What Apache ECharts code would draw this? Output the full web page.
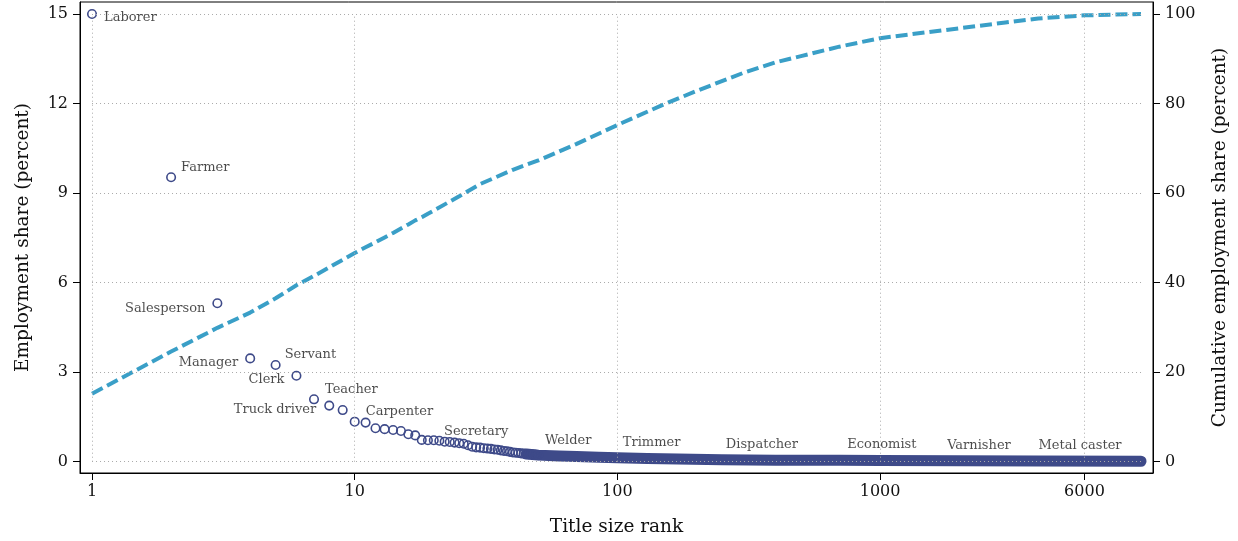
<!DOCTYPE html>
<html><head><meta charset="utf-8">
<script src="https://cdn.jsdelivr.net/npm/echarts@6/dist/echarts.min.js"></script>
<style>html,body{margin:0;padding:0;background:#fff}#c{width:1238px;height:541px}</style>
</head><body><div id="c"></div>
<script>
// ---- data ----
const xTicks = [1, 10, 100, 1000, 6000];
const yLeftTicks = [0, 3, 6, 9, 12, 15];
const yRightTicks = [0, 20, 40, 60, 80, 100];

const ranks = [1,2,3,4,5,6,7,8,9,10,11,12,13,14,15,16,17,18,19,20,21,22,23,24,25,26,27,28,29,30,31,32,33,34,35,36,37,38,39,40,41,42,43,44,45,46,47,48,49,50];
const shares = [15.0,9.53,5.31,3.46,3.24,2.88,2.09,1.88,1.73,1.34,1.31,1.12,1.09,1.06,1.03,0.92,0.88,0.73,0.72,0.72,0.70,0.67,0.66,0.64,0.62,0.60,0.55,0.50,0.48,0.47,0.45,0.44,0.43,0.41,0.40,0.38,0.36,0.35,0.33,0.31,0.30,0.29,0.28,0.27,0.26,0.25,0.25,0.24,0.23,0.22];

const tailRanks = [45, 50, 60, 70, 85, 100, 130, 170, 250, 400, 700, 1000, 2000, 4000, 9850];
const tailShares = [0.26, 0.22, 0.19, 0.17, 0.15, 0.13, 0.11, 0.09, 0.065, 0.05, 0.045, 0.04, 0.03, 0.02, 0.015];

const cumRanks = [1,2,3,4,5,6,7,8,9,10,11,12,13,14,15,16,17,18,19,20,25,30,40,50,70,100,150,200,300,400,500,700,1000,1500,2000,3000,4000,6000,9850];
const cumShares = [15.2,24.6,29.9,33.3,36.5,39.4,41.5,43.4,45.1,46.6,47.9,49.0,50.1,51.1,52.1,53.0,53.9,54.6,55.4,56.1,59.3,62.0,65.2,67.3,71.0,75.2,79.8,82.8,86.8,89.2,90.6,92.7,94.6,95.9,96.8,98.1,99.0,99.7,100.0];

const labelNames = ['Laborer','Farmer','Salesperson','Manager','Servant','Clerk','Teacher','Truck driver','Carpenter','Secretary','Welder','Trimmer','Dispatcher','Economist','Varnisher','Metal caster'];
const labelRanks = [1, 2, 3, 4, 5, 6, 7, 8, 10, 29, 65, 135, 355, 1016, 2380, 5770];
const labelShares = [15.0, 9.53, 5.31, 3.46, 3.24, 2.88, 2.09, 1.88, 1.34, 0.48, 0.18, 0.107, 0.053, 0.04, 0.028, 0.018];

// ---- styling ----
const FONT = 'DejaVu Serif';
const TXT = '#111';
const PT = '#3E4A89';
const CUM = '#3A9FC7';
const labelPlace = {
  'Laborer': ['left', 12, 4], 'Farmer': ['left', 10, -10], 'Salesperson': ['right', -12, 5],
  'Manager': ['right', -12, 4], 'Servant': ['left', 9, -10], 'Clerk': ['right', -12, 4],
  'Teacher': ['left', 11, -10], 'Truck driver': ['right', -13, 4], 'Carpenter': ['left', 11, -10]
};
const lastRank = tailRanks[tailRanks.length - 1];
const yTop = yLeftTicks[yLeftTicks.length - 1];

const gridLines = yLeftTicks.map(v => [{coord: [ranks[0], v]}, {coord: [lastRank, v]}])
  .concat(xTicks.map(v => [{coord: [v, yLeftTicks[0]]}, {coord: [v, yTop]}]));

const chart = echarts.init(document.getElementById('c'), null, {renderer: 'canvas'});
const axisText = {fontFamily: FONT, fontSize: 16, color: TXT};
const nameText = {fontFamily: FONT, fontSize: 18.5, color: TXT};

chart.setOption({
  animation: false,
  grid: {left: 80, right: 85, top: 2, bottom: 68, show: true, borderColor: '#000', borderWidth: 1,
         containLabel: false, outerBoundsMode: 'none'},
  xAxis: {
    type: 'log', logBase: 10, min: 0.9, max: 10940,
    name: 'Title size rank', nameLocation: 'middle', nameGap: 45, nameTextStyle: nameText,
    axisLine: {show: true, onZero: false, lineStyle: {color: '#000', width: 1}},
    axisTick: {show: true, length: 7, lineStyle: {color: '#000'}, customValues: xTicks},
    axisLabel: Object.assign({customValues: xTicks, margin: 11, formatter: v => String(Math.round(v))}, axisText),
    splitLine: {show: false}, minorTick: {show: false}, minorSplitLine: {show: false}
  },
  yAxis: [{
    type: 'value', position: 'left', min: -0.379, max: 15.402,
    name: 'Employment share (percent)', nameLocation: 'middle', nameRotate: 90, nameGap: 47, nameTextStyle: nameText,
    axisLine: {show: true, onZero: false, lineStyle: {color: '#000', width: 1}},
    axisTick: {show: true, length: 7, lineStyle: {color: '#000'}, customValues: yLeftTicks},
    axisLabel: Object.assign({customValues: yLeftTicks, margin: 12}, axisText),
    splitLine: {show: false}
  }, {
    type: 'value', position: 'right', min: -2.524, max: 102.68,
    name: 'Cumulative employment share (percent)', nameLocation: 'middle', nameRotate: 90, nameGap: 58, nameTextStyle: nameText,
    axisLine: {show: true, onZero: false, lineStyle: {color: '#000', width: 1}},
    axisTick: {show: true, length: 7, lineStyle: {color: '#000'}, customValues: yRightTicks},
    axisLabel: Object.assign({customValues: yRightTicks, margin: 12}, axisText),
    splitLine: {show: false}
  }],
  series: [{
    type: 'line', data: [], z: 1, silent: true,
    markLine: {silent: true, symbol: ['none', 'none'], label: {show: false}, animation: false,
      lineStyle: {color: '#aaaaaa', type: [1, 3], width: 1}, data: gridLines}
  }, {
    type: 'line', z: 2, silent: true, showSymbol: false, symbol: 'none',
    data: tailRanks.map((r, i) => [r, tailShares[i]]),
    lineStyle: {color: PT, width: 11, cap: 'round', join: 'round'}
  }, {
    type: 'scatter', z: 3, silent: true, symbol: 'circle', symbolSize: 8.5,
    data: ranks.map((r, i) => [r, shares[i]]),
    itemStyle: {color: 'rgba(0,0,0,0)', borderColor: PT, borderWidth: 1.6, opacity: 1}
  }, {
    type: 'line', yAxisIndex: 1, z: 4, silent: true, showSymbol: false, symbol: 'none',
    data: cumRanks.map((r, i) => [r, cumShares[i]]),
    lineStyle: {color: CUM, width: 4, type: [12, 5], cap: 'butt'}
  }, {
    type: 'scatter', z: 5, silent: true, symbolSize: 1, itemStyle: {color: 'rgba(0,0,0,0)'},
    data: labelNames.map((n, i) => {
      const p = labelPlace[n] || ['center', 0, -15.5];
      return {name: n, value: [labelRanks[i], labelShares[i]],
        label: {align: p[0], offset: [p[1], p[2]]}};
    }),
    label: {show: true, position: 'inside', formatter: '{b}', verticalAlign: 'middle',
      fontFamily: FONT, fontSize: 13, color: '#1e1e1e'}
  }]
});
</script>
</body></html>
